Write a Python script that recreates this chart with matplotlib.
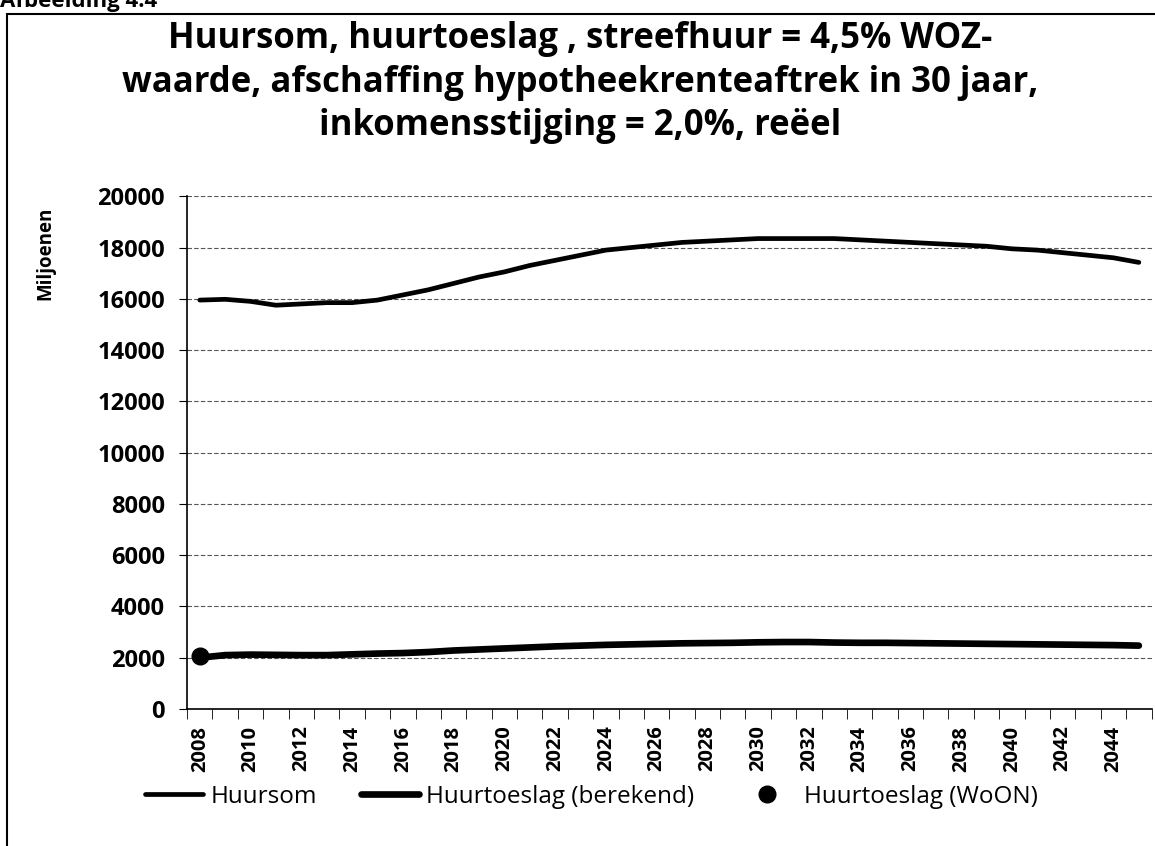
"""Huursom en huurtoeslag, scenario streefhuur 4,5% WOZ-waarde."""

import matplotlib.pyplot as plt
from matplotlib.patches import Rectangle

plt.rcParams["font.family"] = ["Open Sans", "DejaVu Sans"]

years = list(range(2008, 2046))

huursom = [
    15950, 15980, 15900, 15750, 15800, 15850, 15850, 15950, 16150, 16350,
    16600, 16850, 17050, 17300, 17500, 17700, 17900, 18000, 18100, 18200,
    18250, 18300, 18350, 18350, 18350, 18350, 18300, 18250, 18200, 18150,
    18100, 18050, 17950, 17900, 17800, 17700, 17600, 17420,
]
huurtoeslag = [
    2000, 2100, 2120, 2110, 2100, 2100, 2130, 2160, 2180, 2220,
    2280, 2320, 2360, 2400, 2440, 2470, 2500, 2520, 2540, 2560,
    2570, 2580, 2600, 2610, 2610, 2590, 2580, 2580, 2570, 2560,
    2550, 2540, 2530, 2520, 2510, 2500, 2490, 2470,
]
woon_year = [2008]
woon_value = [2050]

title = ("Huursom, huurtoeslag , streefhuur = 4,5% WOZ-\n"
         "waarde, afschaffing hypotheekrenteaftrek in 30 jaar,\n"
         "inkomensstijging = 2,0%, reëel")

fig = plt.figure(figsize=(11.55, 8.46), dpi=100)
ax = fig.add_axes([0.162, 0.162, 0.835, 0.606])

ax.plot(years, huursom, color="black", lw=3.4, solid_capstyle="round",
        label="Huursom")
ax.plot(years, huurtoeslag, color="black", lw=4.8, solid_capstyle="round",
        label="Huurtoeslag (berekend)")
ax.plot(woon_year, woon_value, "o", color="black", markersize=12,
        linestyle="none", label="Huurtoeslag (WoON)")

ax.set_xlim(2007.5, 2045.5)
ax.set_ylim(0, 20000)
ax.set_yticks(range(0, 20001, 2000))
ax.set_xticks([y - 0.5 for y in years] + [2045.5], minor=True)
ax.set_xticks(years[::2])
ax.tick_params(axis="x", which="major", length=0, rotation=90, pad=12)
ax.tick_params(axis="x", which="minor", length=7, direction="out")
ax.tick_params(axis="y", length=6, direction="out", pad=10)
for lbl in ax.get_xticklabels():
    lbl.set_fontweight("bold")
    lbl.set_fontsize(14.5)
for lbl in ax.get_yticklabels():
    lbl.set_fontweight("bold")
    lbl.set_fontsize(17)
ax.grid(axis="y", color="#555555", lw=0.8, ls=(0, (4, 2)))
for side in ("top", "right"):
    ax.spines[side].set_visible(False)
ax.spines["left"].set_linewidth(1.2)
ax.spines["bottom"].set_linewidth(1.2)

fig.text(0.502, 0.902, title, ha="center", va="center", fontsize=25,
         fontweight="bold", linespacing=1.28)
fig.text(0.039, 0.70, "Miljoenen", rotation=90, ha="center", va="center",
         fontsize=13.5, fontweight="bold")
fig.text(0.0, 1.0 - 1 / 846, "Afbeelding 4.4", ha="left", va="center",
         fontsize=16, fontweight="bold")

fig.patches.append(Rectangle((7 / 1155, -0.01), 1.1, 1 - 14 / 846 + 0.01,
                             transform=fig.transFigure, fill=False,
                             edgecolor="black", lw=1.5))

fig.legend(loc="center", bbox_to_anchor=(0.512, 0.058), ncol=3,
           frameon=False, fontsize=17.5, handlelength=2.4, handletextpad=0.3,
           columnspacing=1.8)

fig.savefig("out.png", dpi=100)
